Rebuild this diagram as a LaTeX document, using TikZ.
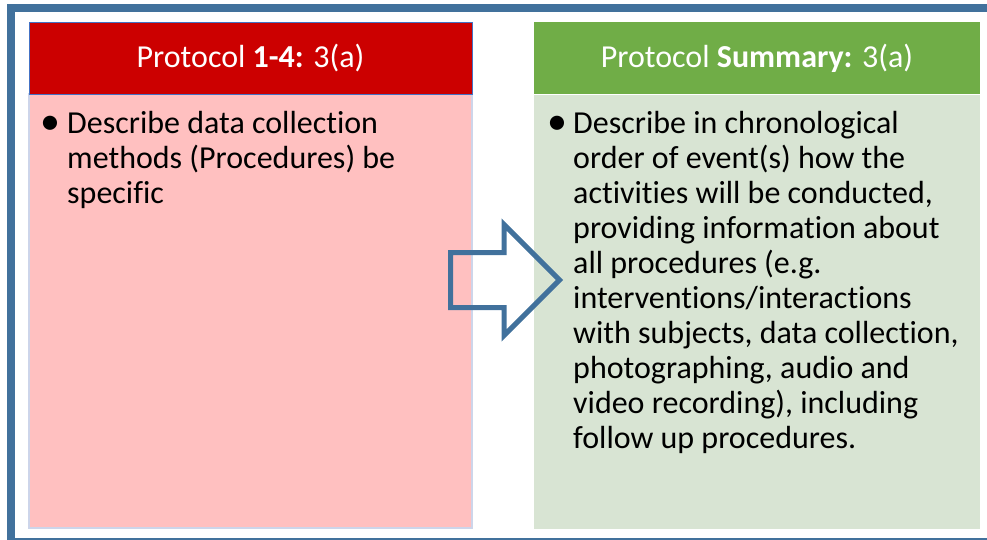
\documentclass[tikz,border=0pt]{standalone}
\usepackage{fontspec}
\setmainfont{Carlito}[Ligatures={NoCommon}]
\usepackage{xcolor}
\usepackage{tikz}
\usetikzlibrary{shapes.arrows,positioning}

\definecolor{frameblue}{HTML}{41719C}
\definecolor{headred}{HTML}{CC0000}
\definecolor{bodypink}{HTML}{FFC0C0}
\definecolor{headgreen}{HTML}{70AD47}
\definecolor{bodymint}{HTML}{D8E4D3}
\definecolor{edgelav}{HTML}{CDD5EA}
\definecolor{headedge}{HTML}{4472C4}

\begin{document}
\begin{tikzpicture}[
        x=1pt, y=-1pt,
        head/.style={rectangle, minimum height=72pt, inner sep=0pt, text=white, font=\fontsize{32}{38}\selectfont},
        body/.style={rectangle, minimum height=434pt, inner sep=0pt},
        point/.style={anchor=north west, inner sep=0pt, align=left, font=\fontsize{32}{35}\selectfont},
        dot/.style={anchor=center, inner sep=0pt, font=\fontsize{40}{40}\selectfont},
        bigarrow/.style={single arrow, draw=frameblue, line width=5pt, minimum height=109pt, inner xsep=0pt, inner ysep=25pt, single arrow head extend=28pt, anchor=tail}
    ]
        \useasboundingbox (0,0) rectangle (987,539);
        \clip (0,0) rectangle (987,539);

        % Outer frame
        \draw[frameblue, line width=8pt] (11,8) rectangle (992,542);

        % Protocol 1-4 column
        \node[body, minimum width=443pt, fill=bodypink, draw=edgelav, line width=2pt] (body1) at (250.5,311) {};
        \node[head, minimum width=443pt, fill=headred, draw=headedge, line width=1pt] (head1) at (250.5,58) {Protocol \textbf{1-4:} 3(a)};
        \node[dot] (dot1) at (50.5,125) {\textbullet};
        \node[point] (text1) at (67,111) {Describe data collection\\methods (Procedures) be\\specific};

        % Protocol Summary column
        \node[body, minimum width=446pt, fill=bodymint] (body2) at (757,312) {};
        \node[head, minimum width=446pt, fill=headgreen] (head2) at (757,58) {Protocol \textbf{Summary:} 3(a)};
        \node[dot] (dot2) at (557.5,125) {\textbullet};
        \node[point] (text2) at (573,111) {Describe in chronological\\order of event(s) how the\\activities will be conducted,\\providing information about\\all procedures (e.g.\\interventions/interactions\\with subjects, data collection,\\photographing, audio and\\video recording), including\\follow up procedures.};

        % Arrow between the columns
        \node[bigarrow] (arrow1) at (448,280) {};
    \end{tikzpicture}
\end{document}
